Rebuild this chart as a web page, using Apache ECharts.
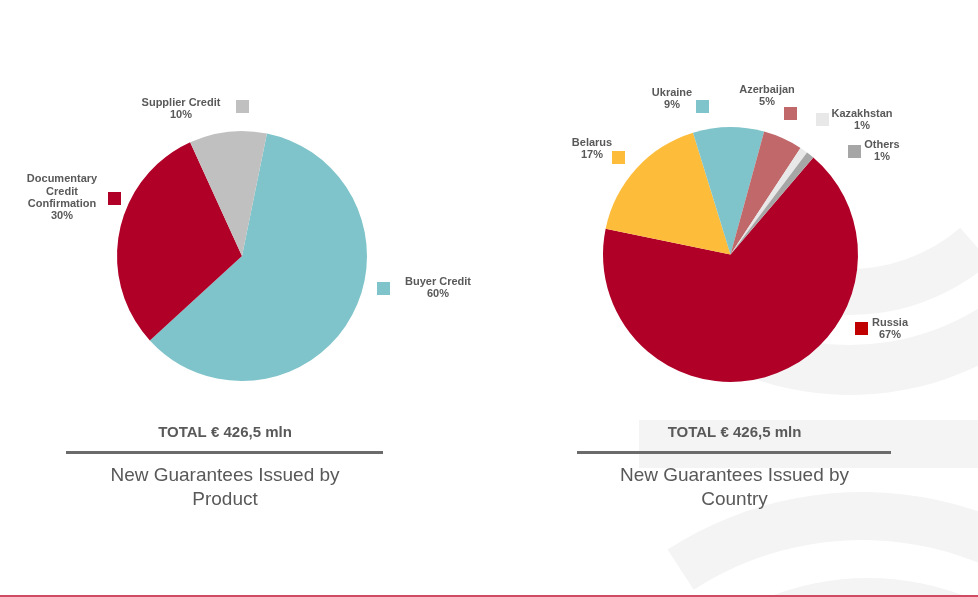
<!DOCTYPE html>
<html>
<head>
<meta charset="utf-8">
<script src="https://cdn.jsdelivr.net/npm/echarts@6/dist/echarts.min.js"></script>
<style>
html,body{margin:0;padding:0;background:#fff;}
#chart{width:978px;height:597px;}
</style>
</head>
<body>
<div id="chart"></div>
<script>
// ---------- DATA ----------
const productNames = ['Buyer Credit', 'Documentary Credit Confirmation', 'Supplier Credit'];
const productLabelText = ['Buyer Credit', 'Documentary\nCredit\nConfirmation', 'Supplier Credit'];
const productValues = [60, 30, 10];

const countryNames = ['Russia', 'Belarus', 'Ukraine', 'Azerbaijan', 'Kazakhstan', 'Others'];
const countryValues = [67, 17, 9, 5, 1, 1];

const totalText = 'TOTAL € 426,5 mln';
const productTitle = ['New Guarantees Issued by', 'Product'];
const countryTitle = ['New Guarantees Issued by', 'Country'];

// ---------- STYLES / LAYOUT ----------
const FONT = "'Liberation Sans', Arial, sans-serif";
const TXT = '#595959';
const productColors = ['#7fc4ca', '#b10028', '#c0c0c0'];
const productMarkerColors = ['#7fc4ca', '#b10028', '#c0c0c0'];
const countryColors = ['#b10028', '#febc3b', '#7fc4ca', '#c0686a', '#e8e8e8', '#a6a6a6'];
const countryMarkerColors = ['#c00000', '#febc3b', '#7fc4ca', '#c0686a', '#e8e8e8', '#a6a6a6'];

// label layout: [textCenterX, textTopY, markerX, markerY]
const productLabelPos = [
  [438, 275.3, 377, 282],
  [62, 173, 108, 192],
  [181, 96.3, 236, 100]
];
const countryLabelPos = [
  [890, 316.3, 855, 322],
  [592, 136.3, 612, 151],
  [672, 86.3, 696, 100],
  [767, 83.3, 784, 107],
  [862, 107.3, 816, 113],
  [882, 138.3, 848, 145]
];

const chart = echarts.init(document.getElementById('chart'), null, {renderer: 'canvas'});

const deg = Math.PI / 180;
const BG = '#f4f4f4';
const graphics = [];

// decorative background arcs
graphics.push({type: 'sector', z: -10, silent: true,
  shape: {cx: 850, cy: 101, r0: 168, r: 214, startAngle: 49 * deg, endAngle: 135 * deg},
  style: {fill: BG}});
graphics.push({type: 'sector', z: -10, silent: true,
  shape: {cx: 850, cy: 101, r0: 244, r: 294, startAngle: 15 * deg, endAngle: 137 * deg},
  style: {fill: BG}});
graphics.push({type: 'rect', z: -10, silent: true,
  shape: {x: 639, y: 420, width: 360, height: 48}, style: {fill: BG}});
graphics.push({type: 'sector', z: -10, silent: true,
  shape: {cx: 862, cy: 849, r0: 309, r: 357, startAngle: -123 * deg, endAngle: -15 * deg},
  style: {fill: BG}});
graphics.push({type: 'circle', z: -10, silent: true,
  shape: {cx: 868, cy: 849, r: 271}, style: {fill: BG}});
// bottom red rule
graphics.push({type: 'rect', z: 5, silent: true,
  shape: {x: 0, y: 595, width: 978, height: 2}, style: {fill: '#cf4a63'}});

function addLabels(names, values, texts, pos, markerColors) {
  names.forEach((n, i) => {
    const p = pos[i];
    graphics.push({type: 'text', z: 20, silent: true,
      style: {text: texts[i] + '\n' + values[i] + '%', x: p[0], y: p[1],
        textAlign: 'center', textVerticalAlign: 'top',
        font: 'bold 11px ' + FONT, lineHeight: 12.4, fill: TXT}});
    graphics.push({type: 'rect', z: 20, silent: true,
      shape: {x: p[2], y: p[3], width: 13, height: 13},
      style: {fill: markerColors[i]}});
  });
}
addLabels(productNames, productValues, productLabelText, productLabelPos, productMarkerColors);
addLabels(countryNames, countryValues, countryNames, countryLabelPos, countryMarkerColors);

function addFooter(cx, ruleX, ruleW, title) {
  graphics.push({type: 'text', z: 20, silent: true,
    style: {text: totalText, x: cx, y: 433, textAlign: 'center', textVerticalAlign: 'middle',
      font: 'bold 15px ' + FONT, fill: TXT}});
  graphics.push({type: 'rect', z: 20, silent: true,
    shape: {x: ruleX, y: 451, width: ruleW, height: 3}, style: {fill: '#6b6b6b'}});
  title.forEach((t, i) => {
    graphics.push({type: 'text', z: 20, silent: true,
      style: {text: t, x: cx, y: 475.5 + i * 24, textAlign: 'center', textVerticalAlign: 'middle',
        font: '19px ' + FONT, fill: TXT}});
  });
}
addFooter(225, 66, 317, productTitle);
addFooter(734.5, 577, 314, countryTitle);

const option = {
  animation: false,
  backgroundColor: '#ffffff',
  graphic: {elements: graphics},
  series: [
    {
      type: 'pie', z: 2,
      center: [242, 256], radius: 125,
      startAngle: 78.5, clockwise: true,
      label: {show: false}, labelLine: {show: false},
      emphasis: {disabled: true}, silent: true,
      itemStyle: {borderWidth: 0},
      data: productNames.map((n, i) => ({name: n, value: productValues[i], itemStyle: {color: productColors[i]}}))
    },
    {
      type: 'pie', z: 2,
      center: [730.5, 254.5], radius: 127.5,
      startAngle: 49.5, clockwise: true,
      label: {show: false}, labelLine: {show: false},
      emphasis: {disabled: true}, silent: true,
      itemStyle: {borderWidth: 0},
      data: countryNames.map((n, i) => ({name: n, value: countryValues[i], itemStyle: {color: countryColors[i]}}))
    }
  ]
};
chart.setOption(option);
</script>
</body>
</html>
